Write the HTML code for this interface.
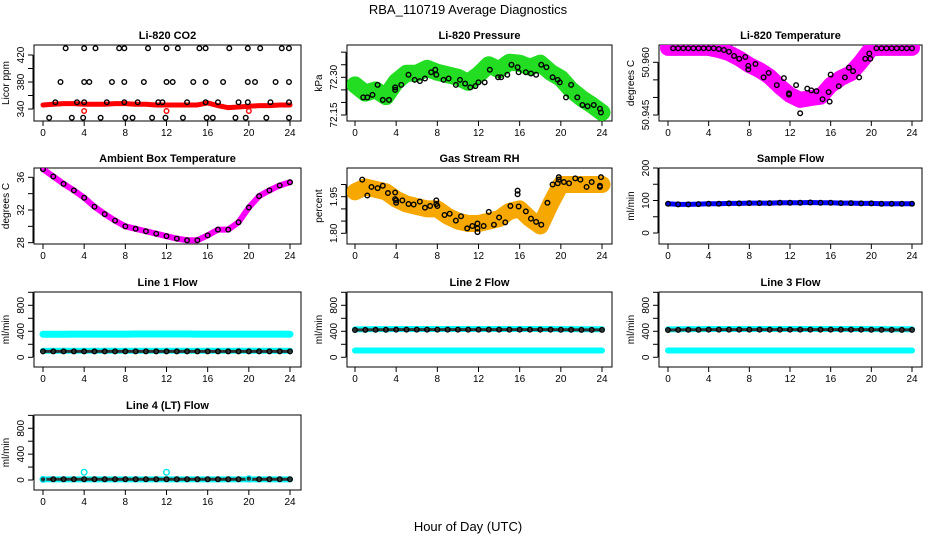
<!DOCTYPE html>
<html><head><meta charset="utf-8"><style>
html,body{margin:0;padding:0;background:#fff;}
svg{display:block;font-family:"Liberation Sans",sans-serif;}
</style></head><body>
<svg id="chart" width="936" height="540" viewBox="0 0 936 540">
<text x="468" y="14" text-anchor="middle" font-size="13">RBA_110719  Average Diagnostics</text>
<text x="468" y="531" text-anchor="middle" font-size="13">Hour of Day (UTC)</text>
</svg>
<script>
const hours = [0,1,2,3,4,5,6,7,8,9,10,11,12,13,14,15,16,17,18,19,20,21,22,23,24];
const xTicks = [0,4,8,12,16,20,24];
// CO2
const co2Band = [346,347,348,348,347,347,347,348,348,347,347,346,346,346,346,346,349,345,342,343,344,345,345,346,346];
const co2PtsH = [2.2,4,5.1,7.4,7.9,10.2,12,13.1,15.2,15.8,18.1,19.9,21.1,23.2,23.9, 1.7,4,4.5,6.7,7.9,9.8,12,12.6,14.6,15.8,17.5,19.9,20.6,22.6,23.9, 1.2,3.3,4,6.2,7.9,9.2,11.2,11.6,14,15.8,17,19,19.9,22.1,23.9, 0.6,2.8,3.9,5.6,8,8.7,10.6,11.9,13.6,15.9,16.5,18.7,19.7,21.7,23.9];
const co2PtsV = [430,430,430,430,430,430,430,430,430,430,430,430,430,430,430, 380,380,380,380,380,380,380,380,380,380,380,380,380,380,380, 350,350,350,350,350,350,350,350,350,350,350,350,350,350,350, 327,327,327,327,327,327,327,327,327,327,327,327,327,327,327];
const co2RedH = [4,12,20];
const co2RedV = [337,337,337];
// Pressure
const presBand = [72.27,72.237,72.25,72.223,72.283,72.316,72.316,72.336,72.32,72.31,72.30,72.28,72.31,72.35,72.33,72.36,72.356,72.34,72.356,72.32,72.296,72.25,72.217,72.19,72.16];
const presPtsH = [0.8,1.2,1.7,2.2,2.7,3.3,3.9,3.9,4.5,5.2,5.8,6.3,6.8,7.4,7.8,7.9,8.6,9.1,9.8,10.2,10.7,11.2,11.7,12,12.6,13.1,13.9,14.2,14.8,15.2,15.8,15.9,16.6,17.1,17.6,18.1,18.6,19.2,19.7,19.9,20.5,21,21.6,22.1,22.6,23.2,23.8,23.9];
const presPtsV = [72.22,72.22,72.23,72.27,72.21,72.21,72.26,72.25,72.27,72.31,72.29,72.285,72.295,72.32,72.33,72.31,72.29,72.295,72.27,72.29,72.275,72.26,72.265,72.28,72.28,72.33,72.30,72.30,72.31,72.35,72.34,72.32,72.32,72.315,72.31,72.35,72.34,72.30,72.29,72.28,72.22,72.27,72.22,72.19,72.185,72.19,72.175,72.16];
// Li-820 temperature
const tempBand = [50.9641,50.9641,50.9641,50.9641,50.9641,50.9635,50.9626,50.9611,50.9592,50.9578,50.9559,50.9531,50.9507,50.9493,50.9498,50.9502,50.9535,50.9555,50.9569,50.9602,50.964,50.9641,50.9641,50.9641,50.9641];
const tempPtsH = [0.5,1,1.5,2,2.5,3,3.5,4,4.5,5,5.5,6,6.5,7,7.6,7.9,7.9,8.6,9.4,9.9,10.7,11.4,11.9,11.9,12.6,13,13.7,14.1,14.6,15.2,15.8,15.9,16,16.8,17.4,17.8,18.2,18.8,19.4,19.8,19.9,20.5,21,21.5,22,22.5,23,23.5,24];
const tempPtsV = [50.964,50.964,50.964,50.964,50.964,50.964,50.964,50.964,50.964,50.9638,50.9635,50.963,50.9618,50.961,50.9615,50.959,50.958,50.9595,50.9557,50.957,50.9535,50.9555,50.9512,50.9508,50.9535,50.9455,50.9525,50.952,50.9518,50.9495,50.9515,50.9488,50.9565,50.9532,50.9557,50.9585,50.9575,50.9557,50.961,50.9625,50.961,50.964,50.964,50.964,50.964,50.964,50.964,50.964,50.964];
// Ambient box temperature
const ambBand = [37.0,36.1,35.2,34.4,33.5,32.4,31.5,30.7,30.0,29.7,29.4,29.1,28.8,28.5,28.3,28.3,28.9,29.6,29.6,30.5,32.3,33.7,34.4,35.0,35.4];
// RH
const rhBand = [1.97,1.99,1.98,1.97,1.94,1.92,1.91,1.90,1.90,1.87,1.85,1.84,1.84,1.85,1.86,1.89,1.90,1.86,1.83,1.92,2.00,2.00,2.00,2.00,2.00];
const rhPtsH = [0.7,1.2,1.6,2.2,2.7,3.2,3.9,3.9,4,4,4.6,5.2,5.7,6.3,6.8,7.3,7.9,7.9,8,8.7,9.2,9.8,10.3,10.9,11.4,11.9,11.9,11.9,12.5,13,13.5,14,14.6,15.1,15.8,15.8,15.9,16.6,17.1,17.6,18.1,18.7,19.2,19.7,19.8,19.8,20.3,20.8,21.4,21.9,22.5,23,23.8,23.8,23.9];
const rhPtsV = [2.02,1.955,1.99,1.985,1.995,1.965,1.967,1.94,1.935,1.925,1.935,1.92,1.918,1.93,1.905,1.912,1.935,1.92,1.912,1.875,1.88,1.852,1.87,1.82,1.83,1.84,1.82,1.805,1.83,1.888,1.835,1.865,1.845,1.912,1.975,1.96,1.91,1.89,1.86,1.847,1.835,1.925,2.00,2.005,2.03,2.02,2.01,2.005,2.025,2.02,1.99,2.01,1.995,1.99,2.03];
// Sample flow
const sampleBand = [90,88,88,89,90,90,91,91,92,92,92,93,93,93,94,93,93,92,92,91,91,90,90,90,90];
// Line flows
const line1Upper = [355,355,355,356,356,356,356,356,357,358,358,358,358,358,358,357,356,356,356,356,356,356,356,356,355];
const line1Lower = [100,100,100,100,100,100,100,100,100,100,100,100,100,100,100,100,100,100,100,100,100,100,100,100,100];
const line1Black = [92,92,92,92,92,92,92,92,92,92,92,92,92,92,92,92,92,92,92,92,92,92,92,92,92];
const line2Upper = [430,432,433,434,435,436,436,436,436,436,436,436,436,436,436,436,436,436,436,435,434,433,432,432,432];
const line2Lower = [105,105,105,105,105,105,105,105,105,105,105,105,105,105,105,105,105,105,105,105,105,105,105,105,105];
const line2Black = [420,422,423,424,425,426,426,426,426,426,426,426,426,426,426,426,426,426,426,425,424,423,422,422,422];
const line3Upper = [430,432,433,434,435,436,436,436,436,436,436,436,436,436,436,436,436,436,436,435,434,433,432,432,432];
const line3Lower = [105,105,105,105,105,105,105,105,105,105,105,105,105,105,105,105,105,105,105,105,105,105,105,105,105];
const line3Black = [420,422,423,424,425,426,426,426,426,426,426,426,426,426,426,426,426,426,426,425,424,423,422,422,422];
const line4Lower = [10,10,10,10,10,10,10,10,10,10,10,10,10,10,10,10,10,10,10,10,10,10,10,10,10];
const line4Black = [12,12,12,12,12,12,12,12,12,12,12,12,12,12,12,12,12,12,12,12,12,12,12,12,12];
const line4OutH = [0,4,12,20];
const line4OutV = [10,120,120,20];

const NS='http://www.w3.org/2000/svg';
const svg=document.getElementById('chart');
function el(tag,attrs,parent){const e=document.createElementNS(NS,tag);for(const k in attrs)e.setAttribute(k,attrs[k]);(parent||svg).appendChild(e);return e;}

const cols=[{l:34,r:301,x0:43,x24:290},{l:347,r:612,x0:355,x24:602},{l:659,r:922,x0:668,x24:912}];
const rows=[{t:45,b:121},{t:168,b:244},{t:292,b:367},{t:415,b:490}];

function panel(name,title,col,row,yRef,yTicks,yLabels,ylab){
  const c=cols[col],rw=rows[row];
  const g=el('g',{});
  
  
  const sx=h=>c.x0+(c.x24-c.x0)*h/24;
  const sy=v=>yRef[1]+(v-yRef[0])*(yRef[3]-yRef[1])/(yRef[2]-yRef[0]);
  const box=el('rect',{x:c.l,y:rw.t,width:c.r-c.l,height:rw.b-rw.t,fill:'none',stroke:'#000','stroke-width':1},g);
  
  
  const tt=el('text',{x:(c.l+c.r)/2,y:rw.t-6,'text-anchor':'middle','font-size':11,'font-weight':'bold'},g);
  tt.textContent=title;
  
  
  const xa=el('g',{},g);
  
  
  xTicks.forEach(h=>{
    el('line',{x1:sx(h),x2:sx(h),y1:rw.b,y2:rw.b+5,stroke:'#000'},xa);
    const t=el('text',{x:sx(h),y:rw.b+15,'text-anchor':'middle','font-size':10},xa);t.textContent=h;
  });
  const ya=el('g',{},g);
  
  
  el('line',{x1:c.l-1,x2:c.l-1,y1:sy(yTicks[0]),y2:sy(yTicks[yTicks.length-1]),stroke:'#000'},ya);
  yTicks.forEach(v=>{el('line',{x1:c.l-6,x2:c.l-1,y1:sy(v),y2:sy(v),stroke:'#000'},ya);});
  yLabels.forEach(v=>{
    const x=c.l-10,y=sy(v);
    const t=el('text',{x:x,y:y,'text-anchor':'middle','font-size':10,transform:`rotate(-90 ${x} ${y})`},ya);t.textContent=v;
  });
  const yl=el('text',{x:c.l-25,y:(rw.t+rw.b)/2,'text-anchor':'middle','font-size':10,transform:`rotate(-90 ${c.l-25} ${(rw.t+rw.b)/2})`},g);
  yl.textContent=ylab;
  
  
  const clip='clip-'+name;
  const cp=el('clipPath',{id:clip},g);el('rect',{x:c.l,y:rw.t,width:c.r-c.l,height:rw.b-rw.t},cp);
  const data=el('g',{'clip-path':`url(#${clip})`},g);
  
  
  return {g:data,sx,sy,
    band(vals,color,w,nm){const p=el('polyline',{points:hours.map((h,i)=>sx(h)+','+sy(vals[i])).join(' '),fill:'none',stroke:color,'stroke-width':w,'stroke-linejoin':'round','stroke-linecap':'round'},data);
      
      },
    pts(hs,vs,color,nm,r){const pg=el('g',{},data);
      
      
      hs.forEach((h,i)=>el('circle',{cx:sx(h),cy:sy(vs[i]),r:r||2.3,fill:'none',stroke:color,'stroke-width':1.4},pg));}
  };
}

let p=panel('co2','Li-820 CO2',0,0,[340,109,420,55],[340,360,380,400,420],[340,380,420],'Licor ppm');
p.band(co2Band,'#ff0000',5,'co2-band');
p.pts(co2RedH,co2RedV,'#ff0000','co2-red-points');
p.pts(co2PtsH,co2PtsV,'#000','co2-points');

p=panel('pressure','Li-820 Pressure',1,0,[72.30,77.3,72.15,115],[72.15,72.20,72.25,72.30,72.35,72.40],['72.15','72.30'],'kPa');
p.band(presBand,'#22dd22',17,'pressure-band');
p.pts(presPtsH,presPtsV,'#000','pressure-points');

p=panel('li820-temp','Li-820 Temperature',2,0,[50.960,62.3,50.945,115],[50.945,50.950,50.955,50.960],['50.945','50.960'],'degrees C');
p.band(tempBand,'#ff00ff',16,'temperature-band');
p.pts(tempPtsH,tempPtsV,'#000','temperature-points');

p=panel('ambient','Ambient Box Temperature',0,1,[36,177.3,28,242.7],[28,30,32,34,36],[28,32,36],'degrees C');
p.band(ambBand,'#ff00ff',6,'ambient-band');
p.pts(hours,ambBand,'#000','ambient-points');

p=panel('rh','Gas Stream RH',1,1,[1.95,196.7,1.80,233.3],[1.80,1.85,1.90,1.95,2.00],['1.80','1.95'],'percent');
p.band(rhBand,'#f7a800',17,'rh-band');
p.pts(rhPtsH,rhPtsV,'#000','rh-points');

p=panel('sample-flow','Sample Flow',2,1,[0,233,200,168],[0,50,100,150,200],[0,100,200],'ml/min');
p.band(sampleBand,'#0000ff',5,'sample-flow-band');
p.pts(hours,sampleBand,'#000','sample-flow-points');

const fTicks=[0,200,400,600,800,1000],fLab=[0,400,800];
p=panel('line1','Line 1 Flow',0,2,[0,357.3,800,305.3],fTicks,fLab,'ml/min');
p.band(line1Upper,'#00ffff',7,'line1-upper-band');
p.band(line1Lower,'#00ffff',6,'line1-lower-band');
p.band(line1Black,'#333',3,'line1-black-band');
p.pts(hours,line1Black,'#000','line1-points');

p=panel('line2','Line 2 Flow',1,2,[0,357.3,800,305.3],fTicks,fLab,'ml/min');
p.band(line2Lower,'#00ffff',6,'line2-lower-band');
p.band(line2Upper,'#00ffff',6,'line2-upper-band');
p.band(line2Black,'#333',3,'line2-black-band');
p.pts(hours,line2Black,'#000','line2-points');

p=panel('line3','Line 3 Flow',2,2,[0,357.3,800,305.3],fTicks,fLab,'ml/min');
p.band(line3Lower,'#00ffff',6,'line3-lower-band');
p.band(line3Upper,'#00ffff',6,'line3-upper-band');
p.band(line3Black,'#333',3,'line3-black-band');
p.pts(hours,line3Black,'#000','line3-points');

p=panel('line4','Line 4 (LT) Flow',0,3,[0,480,800,428.3],fTicks,fLab,'ml/min');
p.band(line4Lower,'#00ffff',6,'line4-lower-band');
p.band(line4Black,'#333',3,'line4-black-band');
p.pts(hours,line4Black,'#000','line4-points');
p.pts(line4OutH,line4OutV,'#00e5ee','line4-outliers',2.8);
</script>
</body></html>
